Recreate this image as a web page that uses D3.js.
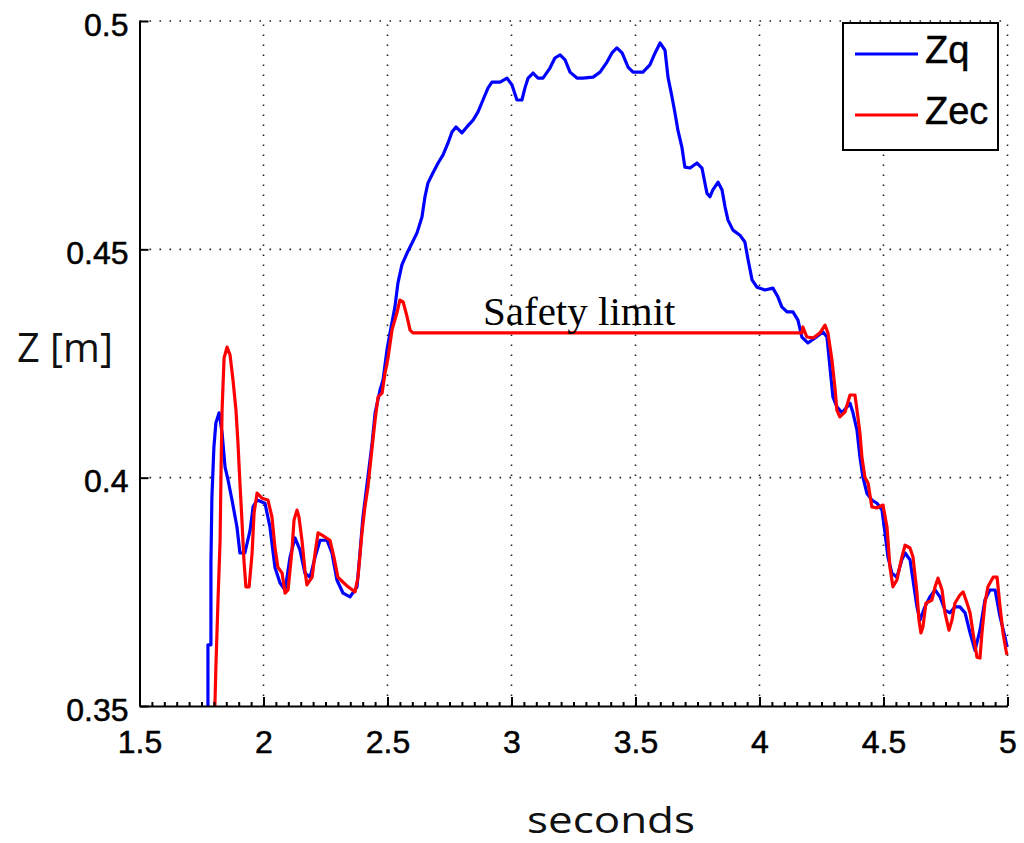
<!DOCTYPE html>
<html>
<head>
<meta charset="utf-8">
<script src="https://cdn.jsdelivr.net/npm/d3@7"></script>
<style>
  body { margin: 0; background: #fff; }
  svg { display: block; }
</style>
</head>
<body>
<div id="root"></div>
<script>
// time samples (s) and heights (m)
let zqTime = [1.776, 1.776, 1.788, 1.788, 1.792, 1.800, 1.808, 1.821, 1.833, 1.845, 1.857, 1.873, 1.893, 1.905, 1.925, 1.946, 1.958, 1.974, 2.006, 2.026,
    2.046, 2.067, 2.087, 2.107, 2.127, 2.147, 2.167, 2.188, 2.208, 2.228, 2.256, 2.276, 2.296, 2.321, 2.349, 2.377, 2.389, 2.401, 2.421, 2.438,
    2.450, 2.470, 2.482, 2.498, 2.510, 2.530, 2.542, 2.558, 2.579, 2.599, 2.619, 2.639, 2.651, 2.663, 2.683, 2.704, 2.724, 2.744, 2.760, 2.776,
    2.800, 2.820, 2.845, 2.865, 2.885, 2.905, 2.921, 2.954, 2.982, 3.002, 3.022, 3.042, 3.054, 3.067, 3.087, 3.107, 3.127, 3.155, 3.175, 3.196,
    3.216, 3.236, 3.264, 3.288, 3.329, 3.357, 3.385, 3.405, 3.425, 3.446, 3.470, 3.490, 3.530, 3.558, 3.579, 3.599, 3.619, 3.631, 3.647, 3.659,
    3.671, 3.687, 3.699, 3.720, 3.748, 3.768, 3.788, 3.800, 3.812, 3.833, 3.849, 3.861, 3.873, 3.893, 3.921, 3.941, 3.954, 3.970, 3.990, 4.022,
    4.054, 4.074, 4.090, 4.111, 4.135, 4.155, 4.171, 4.195, 4.224, 4.256, 4.272, 4.284, 4.296, 4.312, 4.333, 4.353, 4.365, 4.377, 4.393, 4.405,
    4.417, 4.433, 4.453, 4.474, 4.494, 4.506, 4.518, 4.534, 4.554, 4.574, 4.587, 4.607, 4.619, 4.635, 4.647, 4.667, 4.687, 4.708, 4.728, 4.748,
    4.768, 4.788, 4.808, 4.829, 4.849, 4.869, 4.889, 4.909, 4.929, 4.950, 4.970, 4.990, 4.998];
let zqValues = [0.3500, 0.3634, 0.3634, 0.3813, 0.3958, 0.4067, 0.4120, 0.4142, 0.4098, 0.4023, 0.3995, 0.3951, 0.3892, 0.3835, 0.3835, 0.3885, 0.3936, 0.3951, 0.3944, 0.3892,
    0.3804, 0.3769, 0.3754, 0.3826, 0.3868, 0.3842, 0.3791, 0.3782, 0.3826, 0.3863, 0.3863, 0.3835, 0.3776, 0.3747, 0.3739, 0.3761, 0.3835, 0.3914, 0.4001, 0.4076,
    0.4142, 0.4192, 0.4214, 0.4280, 0.4317, 0.4374, 0.4426, 0.4466, 0.4492, 0.4514, 0.4536, 0.4571, 0.4615, 0.4645, 0.4667, 0.4689, 0.4707, 0.4733, 0.4757, 0.4768,
    0.4755, 0.4768, 0.4783, 0.4801, 0.4827, 0.4853, 0.4866, 0.4866, 0.4875, 0.4860, 0.4827, 0.4827, 0.4853, 0.4875, 0.4886, 0.4875, 0.4875, 0.4897, 0.4919, 0.4926,
    0.4915, 0.4888, 0.4875, 0.4875, 0.4877, 0.4888, 0.4910, 0.4930, 0.4941, 0.4930, 0.4899, 0.4888, 0.4888, 0.4904, 0.4930, 0.4952, 0.4936, 0.4877, 0.4834, 0.4799,
    0.4761, 0.4724, 0.4680, 0.4678, 0.4689, 0.4678, 0.4623, 0.4615, 0.4630, 0.4647, 0.4630, 0.4593, 0.4564, 0.4542, 0.4531, 0.4516, 0.4477, 0.4433, 0.4417, 0.4411,
    0.4415, 0.4396, 0.4374, 0.4363, 0.4363, 0.4345, 0.4308, 0.4295, 0.4306, 0.4319, 0.4308, 0.4242, 0.4177, 0.4155, 0.4142, 0.4155, 0.4163, 0.4142, 0.4104, 0.4045,
    0.4001, 0.3966, 0.3951, 0.3944, 0.3929, 0.3879, 0.3826, 0.3791, 0.3782, 0.3820, 0.3835, 0.3820, 0.3776, 0.3717, 0.3688, 0.3717, 0.3739, 0.3754, 0.3739, 0.3710,
    0.3704, 0.3717, 0.3717, 0.3704, 0.3660, 0.3622, 0.3666, 0.3732, 0.3754, 0.3754, 0.3695, 0.3651, 0.3629];

let zecTime = [1.804, 1.808, 1.817, 1.825, 1.829, 1.833, 1.841, 1.853, 1.865, 1.877, 1.889, 1.897, 1.905, 1.913, 1.921, 1.929, 1.942, 1.954, 1.962, 1.974,
    1.994, 2.018, 2.034, 2.046, 2.058, 2.075, 2.087, 2.099, 2.115, 2.123, 2.135, 2.143, 2.155, 2.167, 2.175, 2.196, 2.208, 2.220, 2.236, 2.268,
    2.284, 2.300, 2.321, 2.341, 2.369, 2.381, 2.397, 2.409, 2.421, 2.438, 2.450, 2.462, 2.478, 2.490, 2.502, 2.518, 2.538, 2.550, 2.563, 2.579,
    2.591, 2.603, 4.171, 4.175, 4.191, 4.216, 4.244, 4.264, 4.276, 4.292, 4.304, 4.312, 4.324, 4.345, 4.365, 4.385, 4.393, 4.405, 4.413, 4.425,
    4.438, 4.453, 4.474, 4.498, 4.514, 4.526, 4.538, 4.554, 4.574, 4.587, 4.607, 4.619, 4.635, 4.643, 4.651, 4.659, 4.671, 4.695, 4.708, 4.720,
    4.736, 4.748, 4.764, 4.776, 4.788, 4.808, 4.821, 4.837, 4.849, 4.861, 4.877, 4.889, 4.897, 4.909, 4.921, 4.942, 4.958, 4.970, 4.982, 4.994,
    4.998];
let zecValues = [0.3500, 0.3585, 0.3739, 0.3863, 0.4023, 0.4148, 0.4262, 0.4286, 0.4269, 0.4214, 0.4148, 0.4076, 0.3988, 0.3907, 0.3820, 0.3761, 0.3761, 0.3835, 0.3923, 0.3966,
    0.3955, 0.3951, 0.3914, 0.3848, 0.3804, 0.3791, 0.3747, 0.3754, 0.3842, 0.3907, 0.3929, 0.3914, 0.3863, 0.3798, 0.3765, 0.3782, 0.3835, 0.3879, 0.3874, 0.3863,
    0.3826, 0.3782, 0.3771, 0.3761, 0.3750, 0.3782, 0.3879, 0.3936, 0.3979, 0.4067, 0.4126, 0.4177, 0.4185, 0.4229, 0.4262, 0.4323, 0.4361, 0.4389, 0.4385, 0.4352,
    0.4323, 0.4317, 0.4317, 0.4330, 0.4308, 0.4306, 0.4317, 0.4334, 0.4317, 0.4258, 0.4198, 0.4148, 0.4133, 0.4144, 0.4181, 0.4181, 0.4148, 0.4098, 0.4045, 0.4001,
    0.3988, 0.3936, 0.3934, 0.3940, 0.3892, 0.3804, 0.3761, 0.3776, 0.3826, 0.3852, 0.3846, 0.3826, 0.3747, 0.3688, 0.3660, 0.3673, 0.3725, 0.3732, 0.3761, 0.3780,
    0.3754, 0.3704, 0.3666, 0.3688, 0.3725, 0.3743, 0.3750, 0.3725, 0.3704, 0.3660, 0.3607, 0.3605, 0.3660, 0.3725, 0.3761, 0.3782, 0.3782, 0.3717, 0.3660, 0.3622,
    0.3612];

let xTicks = [1.5, 2, 2.5, 3, 3.5, 4, 4.5, 5],
    yTicks = [0.35, 0.4, 0.45, 0.5],
    seriesNames = ['Zq', 'Zec'],
    seriesColors = ['#0000ff', '#ff0000'];

let width = 1024, height = 843;
let x = d3.scaleLinear().domain([1.5, 5]).range([139.5, 1007.5]),
    y = d3.scaleLinear().domain([0.35, 0.5]).range([706, 21]);

let svg = d3.select('#root').append('svg')
    .attr('width', width)
    .attr('height', height);

svg.append('defs').append('clipPath').attr('id', 'plotClip')
    .append('rect')
    .attr('x', x(1.5)).attr('y', y(0.5) - 4)
    .attr('width', x(5) - x(1.5) + 4).attr('height', y(0.35) - y(0.5) + 4);

// dotted grid
let grid = svg.append('g').attr('class', 'grid')
    .attr('stroke', '#222').attr('stroke-width', 1.6).attr('stroke-dasharray', '1.6,8.4');
grid.selectAll('.vgrid').data(xTicks.slice(1)).enter().append('line')
    .attr('x1', d => x(d)).attr('x2', d => x(d))
    .attr('y1', y(0.35)).attr('y2', y(0.5));
grid.selectAll('.hgrid').data(yTicks.slice(1)).enter().append('line')
    .attr('x1', x(1.5)).attr('x2', x(5))
    .attr('y1', d => y(d)).attr('y2', d => y(d));

// series
let line = d3.line().x(d => x(d[0])).y(d => y(d[1]));
let series = [d3.zip(zqTime, zqValues), d3.zip(zecTime, zecValues)];
svg.append('g').attr('clip-path', 'url(#plotClip)')
    .selectAll('path').data(series).enter().append('path')
    .attr('d', line)
    .attr('fill', 'none')
    .attr('stroke', (d, i) => seriesColors[i])
    .attr('stroke-width', 3.2)
    .attr('stroke-linejoin', 'round');

svg.append('text')
    .attr('x', 483).attr('y', 325)
    .style('font-family', '"Liberation Serif", "Times New Roman", serif')
    .style('font-size', '41px')
    .text('Safety limit');

// axes
let xAxis = svg.append('g').attr('transform', 'translate(0,' + y(0.35) + ')')
    .call(d3.axisBottom(x).tickValues(xTicks).tickSize(-9).tickSizeOuter(0).tickFormat(d3.format('')));
svg.append('g').attr('transform', 'translate(0,' + y(0.35) + ')')
    .call(d3.axisBottom(x).tickValues(d3.range(30, 101, 1).map(d => d / 20)).tickSize(-4).tickSizeOuter(0).tickFormat(''))
    .call(g => g.select('.domain').remove());
let yAxis = svg.append('g').attr('transform', 'translate(' + x(1.5) + ',0)')
    .call(d3.axisLeft(y).tickValues(yTicks).tickSize(-9).tickSizeOuter(0).tickPadding(11).tickFormat(d3.format('')));

svg.selectAll('.tick line, .domain').attr('stroke', '#000').attr('stroke-width', 2);
xAxis.selectAll('text').attr('y', 47).attr('dy', 0);
yAxis.selectAll('text').attr('dy', 14);
svg.selectAll('.tick text')
    .attr('fill', '#000')
    .attr('stroke', '#000').attr('stroke-width', 0.5)
    .style('font-family', '"Liberation Sans", Arial, sans-serif')
    .style('font-size', '32px');

// axis titles, stretched sideways to match the wide geometric face of the original
function stretchedLabel(text, left, baseline, targetWidth, size) {
    let t = svg.append('text')
        .attr('y', baseline)
        .style('font-family', '"Open Sans", sans-serif')
        .style('font-size', size + 'px')
        .attr('fill', '#111')
        .text(text);
    let k = targetWidth / t.node().getComputedTextLength();
    t.attr('transform', 'translate(' + left + ',0) scale(' + k + ',1)');
}
stretchedLabel('Z [m]', 17, 362, 96, 40);
stretchedLabel('seconds', 527, 833, 168, 36);

// legend
let legend = svg.append('g').attr('class', 'legend');
legend.append('rect')
    .attr('x', 843).attr('y', 23).attr('width', 155).attr('height', 127)
    .attr('fill', '#fff').attr('stroke', '#000').attr('stroke-width', 2);
legend.selectAll('.item').data(seriesNames).enter().append('g')
    .attr('transform', (d, i) => 'translate(0,' + (54 + i * 61) + ')')
    .each(function (d, i) {
        d3.select(this).append('line')
            .attr('x1', 855).attr('x2', 918)
            .attr('stroke', seriesColors[i]).attr('stroke-width', 3);
        d3.select(this).append('text')
            .attr('x', 925).attr('y', 9)
            .attr('stroke', '#000').attr('stroke-width', 0.5)
            .style('font-family', '"Liberation Sans", Arial, sans-serif')
            .style('font-size', '38px')
            .text(d);
    });
</script>
</body>
</html>
